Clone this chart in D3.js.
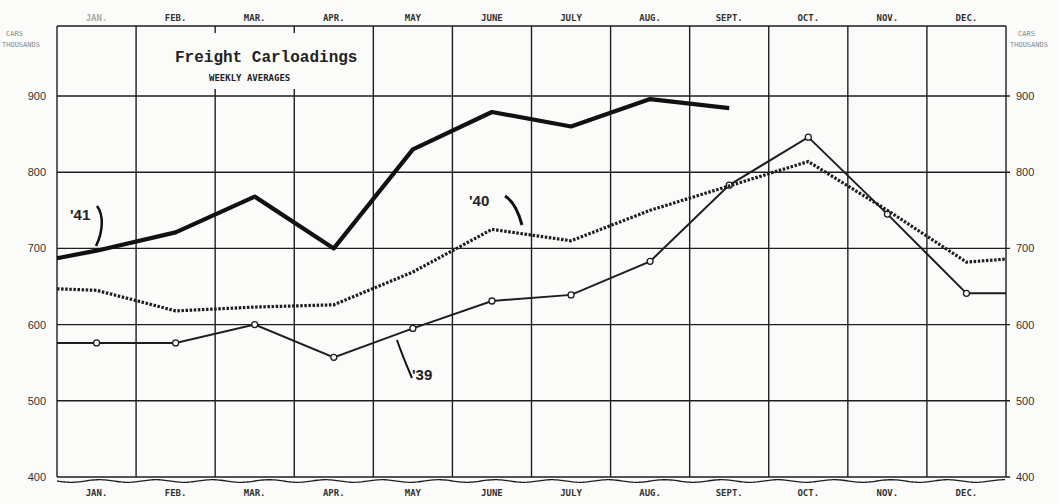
<!DOCTYPE html>
<html><head><meta charset="utf-8">
<script src="https://cdn.jsdelivr.net/npm/d3@7"></script>
<style>
body{margin:0;background:#fbfbfa;}
text{fill:#222;}
</style></head><body>
<svg id="c" width="1058" height="504"></svg>
<script>
const months = ["JAN.","FEB.","MAR.","APR.","MAY","JUNE","JULY","AUG.","SEPT.","OCT.","NOV.","DEC."];
const yTicks = [400,500,600,700,800,900];
// values (thousands of cars), plus left/right edge continuations
const v1941 = [697,721,768,700,830,879,860,896,884];
const v1941Edge = 687;
const v1940 = [645,618,623,626,669,725,710,750,782,814,750,682];
const v1940Edges = [647,686];
const v1939 = [576,576,600,557,595,631,639,683,783,846,745,641];
const v1939Edges = [576,641];

const svg = d3.select("#c");
const L=57, R=1006, T=96, B=477;
const x = d3.scaleBand().domain(months).range([L,R]);
const cx = m => x(m)+x.bandwidth()/2;
const y = d3.scaleLinear().domain([400,900]).range([B,T]);
const ink="#1e1e1e";
const mono="'DejaVu Sans Mono','Liberation Mono',monospace";

// top border line
svg.append("line").attr("x1",L).attr("x2",R).attr("y1",26).attr("y2",26).attr("stroke",ink).attr("stroke-width",1.3);
// vertical gridlines
const vx = months.map(m=>x(m)).concat([R]);
svg.selectAll(".vg").data(vx).enter().append("line")
  .attr("x1",d=>d).attr("x2",d=>d).attr("y1",26).attr("y2",B)
  .attr("stroke",ink).attr("stroke-width",1.4);
// horizontal gridlines
svg.selectAll(".hg").data(yTicks.slice(1)).enter().append("line")
  .attr("x1",L).attr("x2",R+4).attr("y1",d=>y(d)).attr("y2",d=>y(d))
  .attr("stroke",ink).attr("stroke-width",1.4);
// bottom baseline
svg.append("line").attr("x1",L).attr("x2",R+4).attr("y1",B).attr("y2",B).attr("stroke",ink).attr("stroke-width",1.6);
// wavy break line
const wave=[];
for(let px=L; px<=R; px+=2){ wave.push([px, B+4+1.3*Math.sin((px-L)/9)]); }
svg.append("path").attr("d",d3.line()(wave)).attr("fill","none").attr("stroke",ink).attr("stroke-width",1.3);

// title box
svg.append("rect").attr("x",150).attr("y",33).attr("width",218).attr("height",56).attr("fill","#fbfbfa");
svg.append("text").attr("x",175).attr("y",62).style("font-size","16px").style("font-weight","bold").style("font-family","'Liberation Mono',monospace").text("Freight Carloadings");
svg.append("text").attr("x",209).attr("y",81).style("font-size","9px").style("font-weight","bold").style("font-family",mono).text("WEEKLY AVERAGES");

// axis labels
const yl = d3.axisLeft(y).tickValues(yTicks).tickSize(0).tickPadding(0);
const gL = svg.append("g").attr("transform",`translate(46,0)`).call(yl);
const yr = d3.axisRight(y).tickValues(yTicks).tickSize(0).tickPadding(0);
const gR = svg.append("g").attr("transform",`translate(1016,0)`).call(yr);
[gL,gR].forEach(g=>{g.select(".domain").remove(); g.selectAll("text").style("font-size","11px").style("fill","#333").style("font-family","'Liberation Sans',sans-serif");});

const xt = d3.axisTop(x).tickSize(0).tickPadding(0);
const gT = svg.append("g").attr("transform","translate(0,21)").call(xt);
const xb = d3.axisBottom(x).tickSize(0).tickPadding(0);
const gB = svg.append("g").attr("transform","translate(0,490)").call(xb);
[gT,gB].forEach(g=>{g.select(".domain").remove(); g.selectAll("text").style("font-size","9px").style("font-weight","bold").style("fill","#333").style("font-family",mono);});
gT.selectAll("text").filter(d=>d==="JAN.").style("fill","#aaa");

const small = (tx,ty,t)=>svg.append("text").attr("x",tx).attr("y",ty).style("font-size","7px").style("fill","#888").style("font-family",mono).text(t);
small(6,36,"CARS"); small(2,47,"THOUSANDS"); small(1018,36,"CARS"); small(1010,47,"THOUSANDS");

// series
const line = d3.line().x(d=>d[0]).y(d=>y(d[1]));
const pts = (vals, edges) => {
  const p = vals.map((v,i)=>[cx(months[i]),v]);
  if(edges && edges[0]!=null) p.unshift([L,edges[0]]);
  if(edges && edges[1]!=null) p.push([R,edges[1]]);
  return p;
};
svg.append("path").attr("d",line(pts(v1939, v1939Edges))).attr("fill","none").attr("stroke",ink).attr("stroke-width",2);
svg.selectAll(".m39").data(v1939).enter().append("circle")
  .attr("cx",(d,i)=>cx(months[i])).attr("cy",d=>y(d)).attr("r",3)
  .attr("fill","#fbfbfa").attr("stroke",ink).attr("stroke-width",1.3);

svg.append("path").attr("d",line(pts(v1940, v1940Edges))).attr("fill","none")
  .attr("stroke",ink).attr("stroke-width",3.2).attr("stroke-dasharray","2.5,1.6");

svg.append("path").attr("d",line(pts(v1941,[v1941Edge,null]))).attr("fill","none")
  .attr("stroke","#111").attr("stroke-width",4.2).attr("stroke-linejoin","round");

// annotations
const lab = (tx,ty,t)=>svg.append("text").attr("x",tx).attr("y",ty).style("font-size","15px").style("font-weight","bold").style("font-family","'Liberation Sans',sans-serif").text(t);
lab(70,220,"'41");
svg.append("path").attr("d","M97,206 C104,215 103,232 96,246").attr("fill","none").attr("stroke","#111").attr("stroke-width",2.5);
lab(469,206,"'40");
svg.append("path").attr("d","M505,196 C513,201 518,210 522,225").attr("fill","none").attr("stroke","#111").attr("stroke-width",3);
lab(412,380,"'39");
svg.append("path").attr("d","M397,340 C401,352 406,364 412,378").attr("fill","none").attr("stroke","#111").attr("stroke-width",2);
</script></body></html>
